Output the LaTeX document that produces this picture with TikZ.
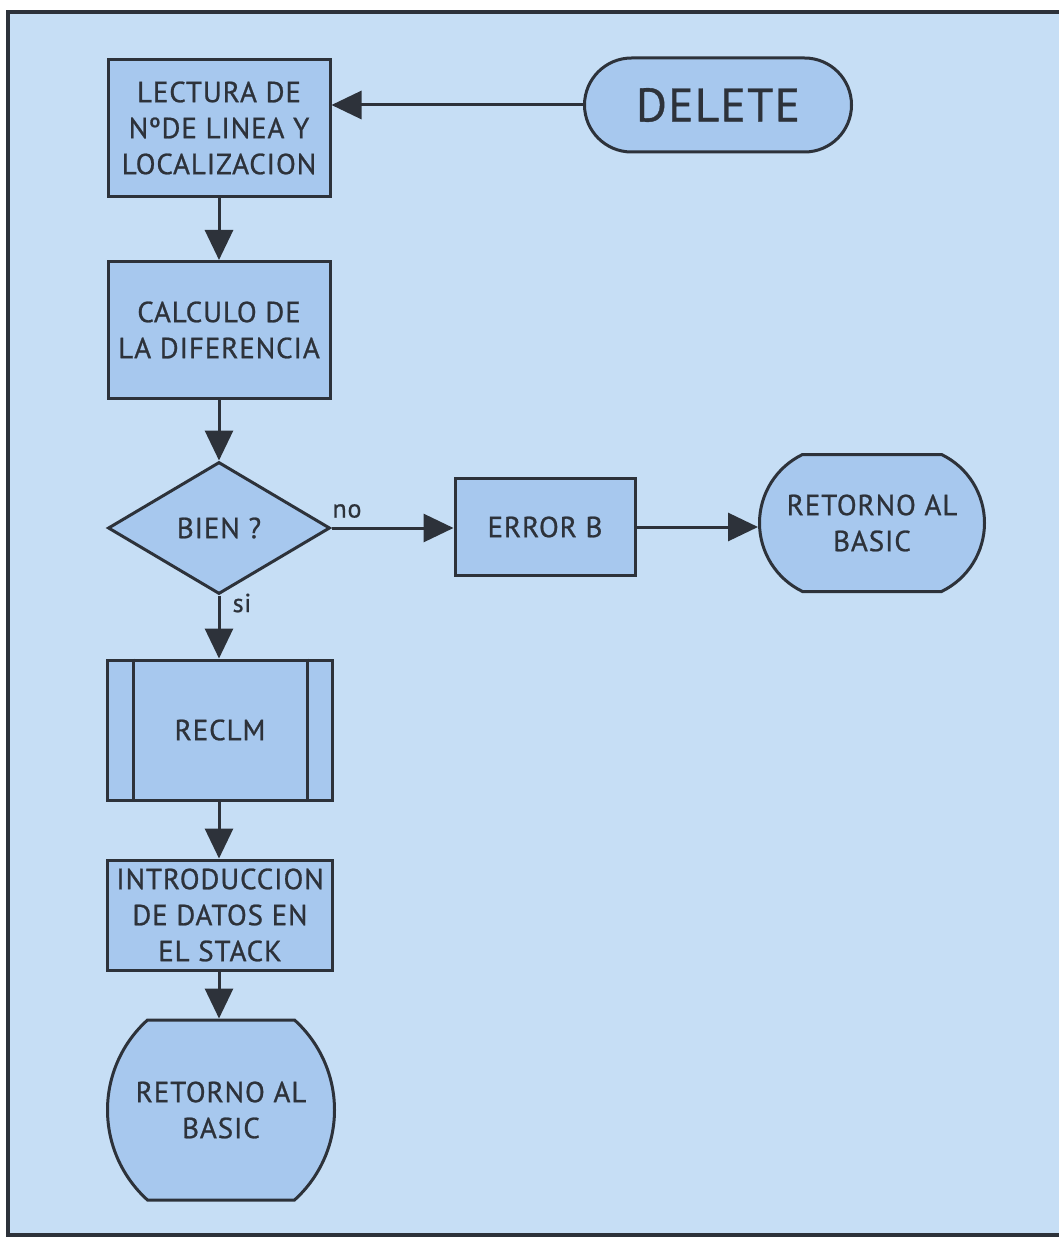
\documentclass[tikz,border=0pt]{standalone}
\usepackage{fontspec}
\setmainfont{PT Sans}
\newfontfamily\boxfont[LetterSpace=3,FakeBold=0.8]{PT Sans}
\usetikzlibrary{arrows.meta,shapes.geometric}
\definecolor{bgblue}{RGB}{198,222,245}
\definecolor{boxblue}{RGB}{167,200,238}
\definecolor{ink}{RGB}{45,50,58}
\tikzset{
  base/.style={draw=ink, fill=boxblue, line width=3pt, inner sep=0pt, align=center, text=ink,
    font=\boxfont\fontsize{29}{36}\selectfont},
  procbox/.style={base, rectangle, minimum width=222pt, minimum height=137pt},
  termtext/.style={base, draw=none, fill=none, rectangle},
  termline/.style={draw=ink, fill=boxblue, line width=3pt},
  decbox/.style={base, diamond, minimum width=222pt, minimum height=132pt},
  conn/.style={draw=ink, line width=3pt, -{Triangle[length=30pt,width=28pt]}},
  lbl/.style={text=ink, font=\boxfont\fontsize{26}{30}\selectfont, inner sep=0pt}
}
% terminal outline: centre x, centre y, half width, half height, arc extent
\newcommand{\termpath}[5]{%
  \pgfmathsetmacro\tr{((#4)^2+(#5)^2)/(2*(#5))}%
  \pgfmathsetmacro\ta{asin((#4)/\tr)}%
  \pgfmathsetmacro\tk{4/3*tan(\ta/4)*\tr}%
  \pgfmathsetmacro\tcx{\tk*sin(\ta)}%
  \pgfmathsetmacro\tcy{\tk*cos(\ta)}%
  \path[termline] (#1-#3+#5,#2-#4) -- (#1+#3-#5,#2-#4)
    .. controls +(\tcx,\tcy) and +(0,-\tk) .. (#1+#3,#2)
    .. controls +(0,\tk) and +(\tcx,-\tcy) .. (#1+#3-#5,#2+#4)
    -- (#1-#3+#5,#2+#4)
    .. controls +(-\tcx,-\tcy) and +(0,\tk) .. (#1-#3,#2)
    .. controls +(0,-\tk) and +(-\tcx,\tcy) .. cycle;%
}
\begin{document}
\begin{tikzpicture}[x=1pt,y=-1pt]
\useasboundingbox (0,0) rectangle (1058,1241);
\fill[white] (0,0) rectangle (1058,1241);
\fill[bgblue] (8,12) rectangle (1062,1235);
\draw[ink, line width=4pt] (1064,12) -- (8,12) -- (8,1235) -- (1064,1235);

\node[procbox] (lect) at (219,128) {LECTURA DE\\NºDE LINEA Y\\LOCALIZACION};

\termpath{718}{105}{133.5}{47}{47}
\node[termtext, minimum width=267pt, minimum height=94pt, font=\boxfont\fontsize{47}{50}\selectfont] (del) at (718,105) {DELETE};

\node[procbox] (calc) at (219,330) {CALCULO DE\\LA DIFERENCIA};
\node[decbox] (bien) at (219,528) {BIEN ?};
\node[procbox, minimum width=180pt, minimum height=97pt] (err) at (545,527) {ERROR B};

\termpath{872}{523}{112.5}{68.5}{43}
\node[termtext, minimum width=225pt, minimum height=137pt] (ret1) at (872,523) {RETORNO AL\\BASIC};

\node[procbox, minimum width=225pt, minimum height=140pt] (recl) at (220,730) {RECLM};
\draw[ink, line width=3pt] ([xshift=27pt]recl.north west) -- ([xshift=27pt]recl.south west);
\draw[ink, line width=3pt] ([xshift=-27pt]recl.north east) -- ([xshift=-27pt]recl.south east);
\node[procbox, minimum width=225pt, minimum height=110pt] (intro) at (220,915) {INTRODUCCION\\DE DATOS EN\\EL STACK};

\termpath{221}{1110}{113.5}{90}{40}
\node[termtext, minimum width=227pt, minimum height=180pt] (ret2) at (221,1110) {RETORNO AL\\BASIC};

\node[lbl] (no) at (347,511) {no};
\node[lbl] (si) at (242,603) {si};

\draw[conn] (del.west) -- (lect.east |- del.west);
\draw[conn] (lect.south) -- (calc.north);
\draw[conn] (calc.south) -- (bien.north);
\draw[conn] (bien.east) -- (err.west |- bien.east);
\draw[conn] (err.east) -- (ret1.west |- err.east);
\draw[conn] (bien.south) -- (recl.north -| bien.south);
\draw[conn] (recl.south -| lect.south) -- (intro.north -| lect.south);
\draw[conn] (intro.south -| lect.south) -- (ret2.north -| lect.south);
\end{tikzpicture}
\end{document}
